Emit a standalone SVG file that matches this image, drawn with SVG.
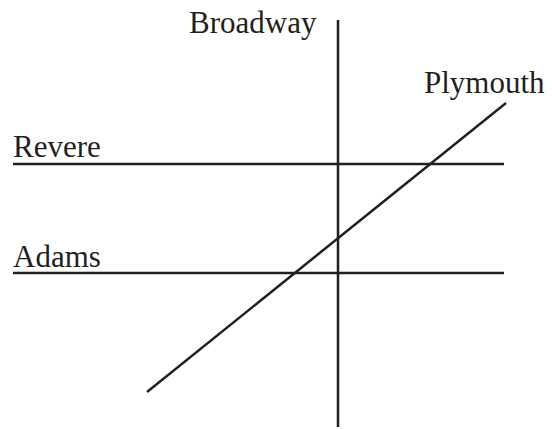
<svg xmlns="http://www.w3.org/2000/svg" width="552" height="429" viewBox="0 0 552 429">
<style>
.t{font-family:"Liberation Serif","Times New Roman",serif;font-size:31px;fill:#231f20}
.l{stroke:#231f20;stroke-width:2.5;fill:none}
</style>
<rect width="552" height="429" fill="#fff"/>
<g id="connectors">
<line class="l" x1="338" y1="20" x2="338" y2="427"/>
<line class="l" x1="13" y1="164" x2="504" y2="164"/>
<line class="l" x1="13" y1="273" x2="504" y2="273"/>
<line class="l" x1="147" y1="392" x2="506" y2="103"/>
</g>
<g id="broadway"><text class="t" x="189" y="33">Broadway</text></g>
<g id="plymouth"><text class="t" x="424" y="93">Plymouth</text></g>
<g id="revere"><text class="t" x="13" y="157">Revere</text></g>
<g id="adams"><text class="t" x="13" y="267">Adams</text></g>
</svg>
